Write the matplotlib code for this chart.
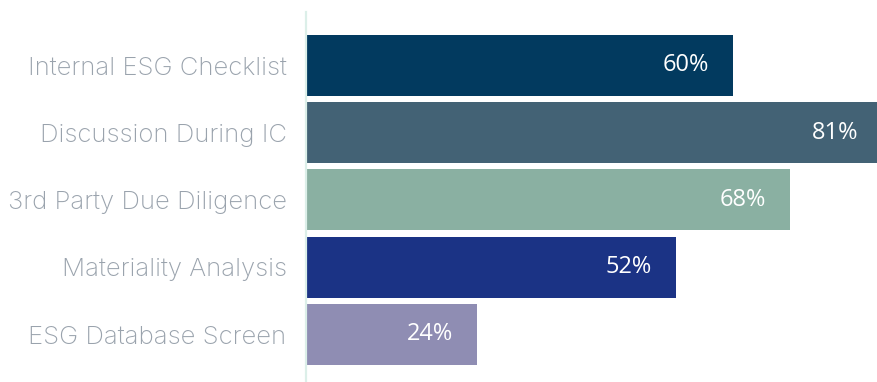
import matplotlib.pyplot as plt

# share of respondents using each ESG diligence method
methods = ["Internal ESG Checklist", "Discussion During IC", "3rd Party Due Diligence",
           "Materiality Analysis", "ESG Database Screen"]
shares = [60, 81, 68, 52, 24]
bar_colors = ["#023a5f", "#436275", "#8ab0a2", "#1b3385", "#8f8db3"]

W, H = 877, 382
fig = plt.figure(figsize=(W/100, H/100), dpi=100)
ax = fig.add_axes([306/W, 0, 1 - 306/W, 1 - 12/H])

y = list(range(len(methods)))
ax.barh(y, shares, height=0.906, color=bar_colors, zorder=2)

# value labels sit inside the bar, right aligned
for yi, v in zip(y, shares):
    ax.annotate(f"{v}%", (v, yi), xytext=(-24, 0), textcoords="offset pixels",
                ha="right", va="center", color="white", fontsize=17,
                family="Open Sans", annotation_clip=False)

ax.set_xlim(0, 80.2)
ax.set_ylim(4.706, -0.792)
ax.set_yticks(y)
ax.set_yticklabels(methods, family="Inter", fontsize=18.5, color="#9aa3ad",
                   fontweight="light")
ax.tick_params(axis="y", length=0, pad=14)
ax.set_xticks([])
for s in ["top", "right", "bottom"]:
    ax.spines[s].set_visible(False)
ax.spines["left"].set_color("#dcefe9")
ax.spines["left"].set_linewidth(1.6)

fig.savefig("out.png", dpi=100)
